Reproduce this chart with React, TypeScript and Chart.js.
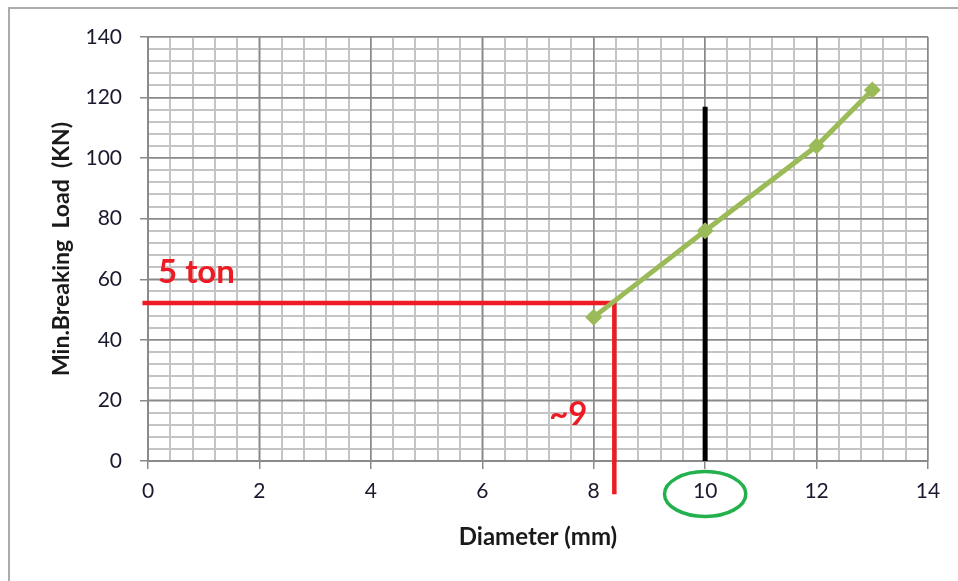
import React, { useEffect, useRef } from "react";
import { Chart, registerables } from "chart.js";

Chart.register(...registerables);

// ---- Data ----
const diameters = [8, 10, 12, 13];
const breakingLoads = [47.5, 76, 104, 122.5];

const xTicksMajor = [0, 2, 4, 6, 8, 10, 12, 14];
const yTicksMajor = [0, 20, 40, 60, 80, 100, 120, 140];

// annotation values (data units)
const tonLoad = 52.2; // 5 ton level
const readDiameter = 8.37; // ~9 reading
const guideStartX = -0.1;
const guideEndY = -11;
const markDiameter = 10;
const markTopLoad = 117;
const ellipseCenterY = -10.9;
const ellipseRadiusX = 0.73;
const ellipseRadiusY = 7.4;
const labelTon = { text: "5 ton", x: 0.18, y: 58.9 };
const labelNine = { text: "~9", x: 7.2, y: 12 };

const X_MIN = 0, X_MAX = 14, Y_MIN = 0, Y_MAX = 140;
const FONT = "Lato, 'Open Sans', sans-serif";

const annotationPlugin = {
  id: "guides",
  beforeDatasetsDraw(chart: any) {
    const { ctx, scales } = chart;
    const x = scales.x, y = scales.y;
    ctx.save();
    ctx.lineCap = "butt";
    ctx.strokeStyle = "#ED1C24";
    ctx.lineWidth = 4.5;
    ctx.beginPath();
    ctx.moveTo(x.getPixelForValue(guideStartX), y.getPixelForValue(tonLoad));
    ctx.lineTo(x.getPixelForValue(readDiameter), y.getPixelForValue(tonLoad));
    ctx.lineTo(x.getPixelForValue(readDiameter), y.getPixelForValue(guideEndY));
    ctx.stroke();
    ctx.strokeStyle = "#000000";
    ctx.lineWidth = 5;
    ctx.beginPath();
    ctx.moveTo(x.getPixelForValue(markDiameter), y.getPixelForValue(0));
    ctx.lineTo(x.getPixelForValue(markDiameter), y.getPixelForValue(markTopLoad));
    ctx.stroke();
    ctx.restore();
  },
  afterDraw(chart: any) {
    const { ctx, scales } = chart;
    const x = scales.x, y = scales.y;
    ctx.save();
    const cx = x.getPixelForValue(markDiameter);
    const cy = y.getPixelForValue(ellipseCenterY);
    const rx = x.getPixelForValue(markDiameter + ellipseRadiusX) - cx;
    const ry = y.getPixelForValue(ellipseCenterY - ellipseRadiusY) - cy;
    ctx.strokeStyle = "#22B14C";
    ctx.lineWidth = 3.5;
    ctx.beginPath();
    ctx.ellipse(cx, cy, rx, ry, 0, 0, Math.PI * 2);
    ctx.stroke();
    ctx.fillStyle = "#ED1C24";
    ctx.font = `bold 33px ${FONT}`;
    ctx.textBaseline = "alphabetic";
    ctx.textAlign = "left";
    for (const l of [labelTon, labelNine]) {
      ctx.fillText(l.text, x.getPixelForValue(l.x), y.getPixelForValue(l.y));
    }
    ctx.restore();
  },
};

export default function App() {
  const canvasRef = useRef<HTMLCanvasElement | null>(null);

  useEffect(() => {
    const canvas = canvasRef.current;
    if (!canvas) return;
    const majorGrid = "#8a8a8a";
    const minorGrid = "#c4c4c4";
    const chart = new Chart(canvas, {
      type: "scatter",
      data: {
        datasets: [
          {
            label: "Min. Breaking Load",
            data: diameters.map((d, i) => ({ x: d, y: breakingLoads[i] })),
            showLine: true,
            borderColor: "#9BBB59",
            backgroundColor: "#9BBB59",
            borderWidth: 5,
            pointStyle: "rectRot",
            pointRadius: 8.5,
            pointBorderWidth: 0,
          },
        ],
      },
      plugins: [annotationPlugin],
      options: {
        responsive: false,
        animation: false,
        layout: { padding: { top: 37, right: 30, left: 0, bottom: 0 } },
        plugins: { legend: { display: false }, tooltip: { enabled: false } },
        scales: {
          xMinor: {
            type: "linear",
            position: "bottom",
            min: X_MIN,
            max: X_MAX,
            z: -2,
            ticks: { display: false, stepSize: 0.4 },
            grid: { color: minorGrid, lineWidth: 2, drawTicks: false },
            border: { display: false },
            afterFit: (s: any) => { s.height = 0; },
          },
          yMinor: {
            type: "linear",
            position: "left",
            min: Y_MIN,
            max: Y_MAX,
            z: -2,
            ticks: { display: false, stepSize: 4 },
            grid: { color: minorGrid, lineWidth: 2, drawTicks: false },
            border: { display: false },
            afterFit: (s: any) => { s.width = 0; },
          },
          x: {
            type: "linear",
            position: "bottom",
            min: X_MIN,
            max: X_MAX,
            z: -1,
            afterBuildTicks: (s: any) => { s.ticks = xTicksMajor.map((v) => ({ value: v })); },
            ticks: {
              color: "#1a1a2e",
              font: { family: FONT, size: 21 },
              padding: 10,
            },
            grid: { color: majorGrid, lineWidth: 1.5, tickLength: 8, tickColor: majorGrid },
            border: { color: majorGrid, width: 2 },
            title: {
              display: true,
              text: "Diameter (mm)",
              color: "#1a1a1a",
              font: { family: FONT, size: 24, weight: "bold" },
              padding: { top: 0, bottom: 29 },
            },
            afterFit: (s: any) => { s.height = 120; },
          },
          y: {
            type: "linear",
            position: "left",
            min: Y_MIN,
            max: Y_MAX,
            z: -1,
            afterBuildTicks: (s: any) => { s.ticks = yTicksMajor.map((v) => ({ value: v })); },
            ticks: {
              color: "#1a1a2e",
              font: { family: FONT, size: 21 },
              padding: 18,
            },
            grid: { color: majorGrid, lineWidth: 1.5, tickLength: 8, tickColor: majorGrid },
            border: { color: majorGrid, width: 2 },
            title: {
              display: true,
              text: "Min.Breaking  Load  (KN)",
              color: "#1a1a1a",
              font: { family: FONT, size: 23, weight: "bold" },
              padding: { top: 48, bottom: 0 },
            },
            afterFit: (s: any) => { s.width = 148; },
          },
        },
      } as any,
    });
    return () => chart.destroy();
  }, []);

  return (
    <div style={{ position: "fixed", left: 0, top: 0, width: 958, height: 581, background: "#fff", overflow: "hidden" }}>
      <div
        style={{
          position: "absolute",
          left: 8,
          top: 7,
          width: 1000,
          height: 700,
          borderTop: "2px solid #ababab",
          borderLeft: "2px solid #ababab",
        }}
      />
      <canvas ref={canvasRef} width={958} height={581} style={{ position: "absolute", left: 0, top: 0 }} />
    </div>
  );
}
